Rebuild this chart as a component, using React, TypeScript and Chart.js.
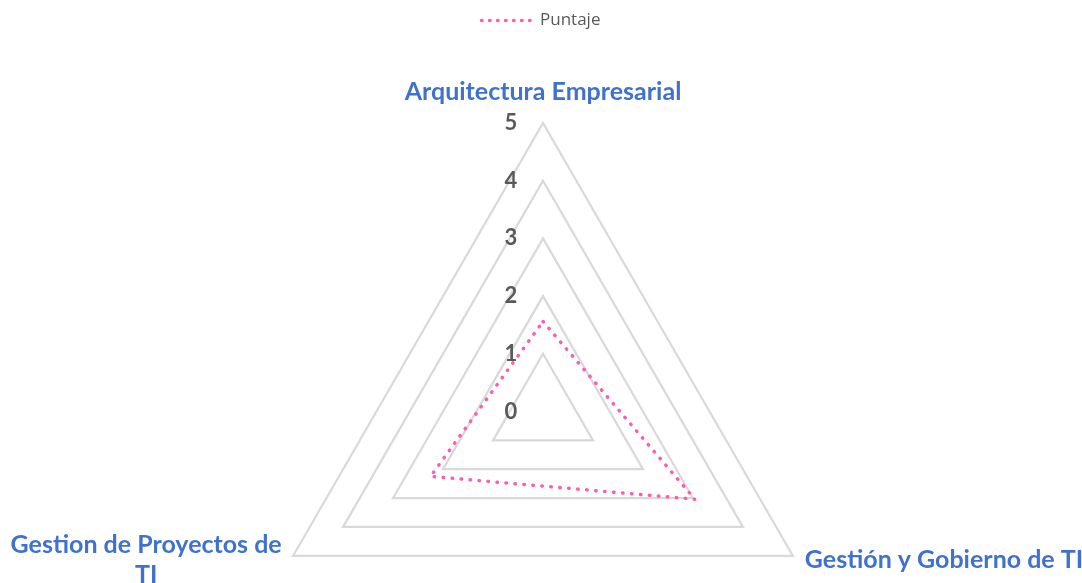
import React, { useEffect, useRef } from "react";
import { Chart, registerables } from "chart.js";

Chart.register(...registerables);

const categories: (string | string[])[] = [
  "Arquitectura Empresarial",
  "Gestión y Gobierno de TI",
  ["Gestion de Proyectos de", "TI"],
];
const seriesName = "Puntaje";
const puntaje = [1.56, 3.04, 2.25];
const tickValues = [0, 1, 2, 3, 4, 5];

const LABEL_FONT = "bold 25px Lato";
const LABEL_COLOR = "#3F72CF";
const TICK_COLOR = "#595959";
const PINK = "#FF5CAD";

const labelPlugin = {
  id: "customLabels",
  afterDraw(chart: any) {
    const scale = chart.scales.r;
    const ctx = chart.ctx as CanvasRenderingContext2D;
    ctx.save();
    // tick labels
    ctx.font = "bold 22px Lato";
    ctx.fillStyle = TICK_COLOR;
    ctx.textAlign = "center";
    ctx.textBaseline = "middle";
    scale.ticks.forEach((t: any) => {
      if (!tickValues.includes(t.value)) return;
      const d = scale.getDistanceFromCenterForValue(t.value);
      ctx.fillText(String(t.value), scale.xCenter - 32, scale.yCenter - d);
    });
    // point labels
    ctx.font = LABEL_FONT;
    ctx.fillStyle = LABEL_COLOR;
    const area = scale.drawingArea;
    categories.forEach((lab, i) => {
      const p = scale.getPointPosition(i, area);
      const lines = Array.isArray(lab) ? lab : [lab];
      if (i === 0) {
        ctx.textAlign = "center";
        ctx.fillText(lines[0], p.x, p.y - 31);
      } else if (i === 1) {
        ctx.textAlign = "left";
        ctx.fillText(lines[0], p.x + 12, p.y + 4);
      } else {
        ctx.textAlign = "center";
        lines.forEach((ln, k) => ctx.fillText(ln, p.x - 147, p.y - 11 + k * 30));
      }
    });
    ctx.restore();
  },
};

export default function App() {
  const ref = useRef<HTMLCanvasElement | null>(null);
  useEffect(() => {
    if (!ref.current) return;
    const chart = new Chart(ref.current, {
      type: "radar",
      data: {
        labels: categories as any,
        datasets: [
          {
            label: seriesName,
            data: puntaje,
            borderColor: PINK,
            backgroundColor: "rgba(0,0,0,0)",
            borderWidth: 3.5,
            borderDash: [0.5, 8.5],
            borderCapStyle: "round",
            pointRadius: 0,
            pointHoverRadius: 0,
            fill: false,
          } as any,
        ],
      },
      options: {
        animation: false,
        responsive: true,
        maintainAspectRatio: false,
        plugins: {
          legend: {
            position: "top",
            labels: {
              color: TICK_COLOR,
              font: { family: "Open Sans", size: 17 },
              usePointStyle: true,
              pointStyle: "line",
              pointStyleWidth: 50,
              padding: 12,
              generateLabels: (c: any) => {
                const items = (Chart.defaults as any).plugins.legend.labels.generateLabels(c);
                return items.map((it: any) => ({
                  ...it,
                  lineDash: [0.5, 7.5],
                  lineCap: "round",
                  lineWidth: 3.5,
                  strokeStyle: PINK,
                  pointStyle: "line",
                }));
              },
            } as any,
          },
          tooltip: { enabled: false },
        },
        scales: {
          r: {
            min: 0,
            max: 5,
            ticks: { stepSize: 1, display: false },
            grid: { color: "#D9D9D9", lineWidth: 2.25, circular: false },
            angleLines: { display: false },
            pointLabels: { display: false },
            afterFit: (scale: any) => {
              scale.xCenter = 543;
              scale.yCenter = 411.5;
              scale.drawingArea = 288.5;
            },
          } as any,
        },
      },
      plugins: [labelPlugin],
    });
    return () => chart.destroy();
  }, []);
  return (
    <div style={{ position: "fixed", left: 0, top: 0, width: 1082, height: 583, background: "#fff" }}>
      <canvas ref={ref} />
    </div>
  );
}
